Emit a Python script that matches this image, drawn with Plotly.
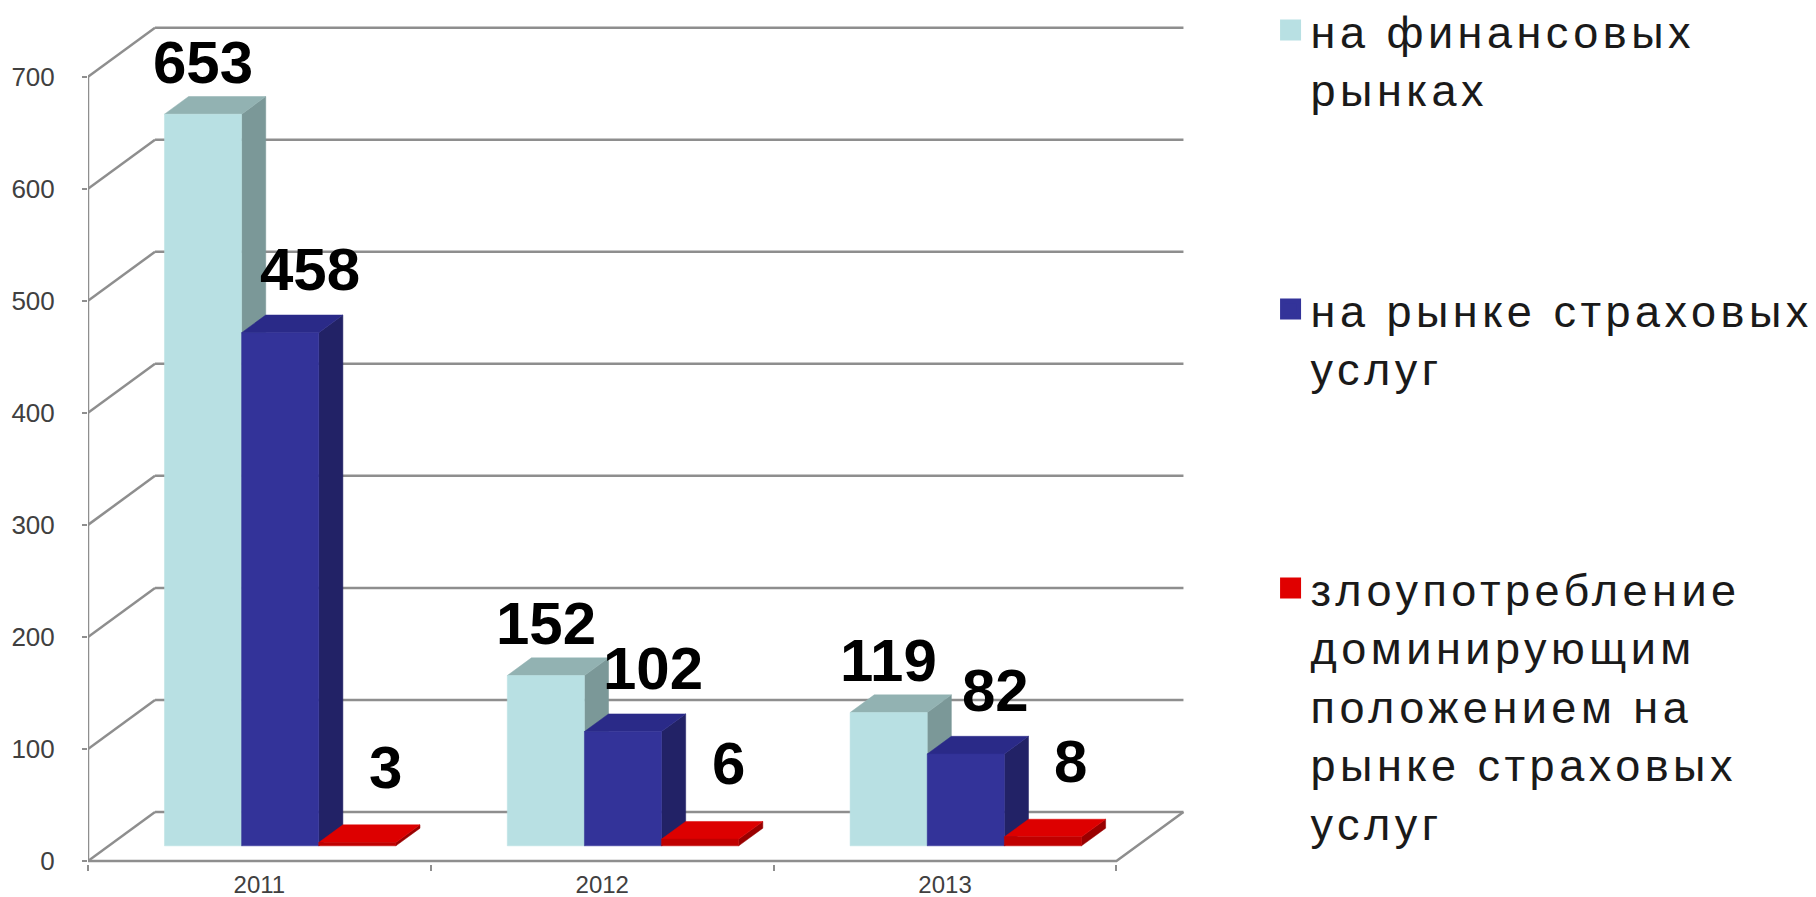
import plotly.graph_objects as go

# ---------------- data ----------------
years = ["2011", "2012", "2013"]
series_names = [
    ["на финансовых", "рынках"],
    ["на рынке страховых", "услуг"],
    ["злоупотребление", "доминирующим", "положением на", "рынке страховых", "услуг"],
]
fin_markets = [653, 152, 119]
insurance_market = [458, 102, 82]
dominance_abuse = [3, 6, 8]
y_tick_values = [0, 100, 200, 300, 400, 500, 600, 700]

series_values = [fin_markets, insurance_market, dominance_abuse]

# ---------------- style ----------------
FONT = "Liberation Sans, Arial, sans-serif"
GRID = "#8e8e8e"
front_colors = ["#b8e0e3", "#333399", "#c00000"]
top_colors = ["#92b2b2", "#2a2a88", "#dd0000"]
side_colors = ["#7b9898", "#222266", "#990000"]
legend_colors = ["#b8e0e3", "#333399", "#e00000"]

# oblique 3-D projection expressed in axis units
FLOOR_DX = 0.1955   # depth of floor, x-axis (category) units
FLOOR_DY = 43.75    # depth of floor, y-axis (value) units
BAR_W = 0.225       # bar width, category units
Z0 = 0.31           # bar front face depth fraction
ZD = 0.36           # bar depth fraction
GROUP_OFF = (1 - 3 * BAR_W) / 2
label_xshift = [0, 30, 28]
label_yshift = [-1, 10, 22]
LEGEND_SPACING = "letter-spacing:4.5px"

X_MAX = 3.2
Y_MIN, Y_MAX = -2.65, 761.3

fig = go.Figure()

# ---------------- walls / floor ----------------
wx, wy = [], []
n_cat = len(years)
for v in y_tick_values:
    wx += [FLOOR_DX, n_cat + FLOOR_DX, None]
    wy += [v + FLOOR_DY, v + FLOOR_DY, None]
    wx += [0, FLOOR_DX, None]
    wy += [v, v + FLOOR_DY, None]
wx += [0, 0, None]
wy += [0, y_tick_values[-1], None]
wx += [0, n_cat, n_cat + FLOOR_DX, None]
wy += [0, 0, FLOOR_DY, None]
fig.add_trace(go.Scatter(x=wx, y=wy, mode="lines",
                         line=dict(color=GRID, width=2.5),
                         hoverinfo="skip", showlegend=False))

# ---------------- bars ----------------
ddx = ZD * FLOOR_DX
ddy = ZD * FLOOR_DY
base = Z0 * FLOOR_DY
annotations = []
for s, vals in enumerate(series_values):
    side_x, side_y, top_x, top_y, fr_x, fr_y = [], [], [], [], [], []
    for i, v in enumerate(vals):
        x0 = i + GROUP_OFF + s * BAR_W + Z0 * FLOOR_DX
        x1 = x0 + BAR_W
        yt = base + v
        side_x += [x1, x1 + ddx, x1 + ddx, x1, x1, None]
        side_y += [base, base + ddy, yt + ddy, yt, base, None]
        top_x += [x0, x1, x1 + ddx, x0 + ddx, x0, None]
        top_y += [yt, yt, yt + ddy, yt + ddy, yt, None]
        fr_x += [x0, x1, x1, x0, x0, None]
        fr_y += [base, base, yt, yt, base, None]
        annotations.append(dict(
            x=(x0 + x1) / 2, y=yt + ddy, xref="x", yref="y",
            text=str(v), showarrow=False, yanchor="bottom", xanchor="center",
            xshift=label_xshift[s], yshift=label_yshift[s],
            font=dict(family=FONT, size=60, color="#000000", weight="bold")))
    for xs, ys, col in ((side_x, side_y, side_colors[s]),
                        (top_x, top_y, top_colors[s]),
                        (fr_x, fr_y, front_colors[s])):
        fig.add_trace(go.Scatter(x=xs, y=ys, mode="lines", fill="toself",
                                 fillcolor=col, line=dict(color=col, width=0.5),
                                 hoverinfo="skip", showlegend=False))

# ---------------- legend entries ----------------
for s, lines in enumerate(series_names):
    label = "<br>".join('<span style="%s">%s</span>' % (LEGEND_SPACING, ln) for ln in lines)
    fig.add_trace(go.Scatter(x=[None], y=[None], name=label, mode="markers",
                             marker=dict(symbol="square", size=16, color=legend_colors[s],
                                         line=dict(color=legend_colors[s], width=5)),
                             legendgroup="g%d" % s, showlegend=True))

legend_cfg = dict(x=1.078, y=1.016, xanchor="left", yanchor="top",
                  valign="top", tracegroupgap=159, itemsizing="trace",
                  font=dict(family=FONT, size=45, color="#1a1a1a"),
                  bgcolor="rgba(0,0,0,0)")

fig.update_layout(
    width=1816, height=897,
    margin=dict(l=80, r=639, t=0, b=41, autoexpand=False),
    paper_bgcolor="white", plot_bgcolor="white",
    annotations=annotations,
    showlegend=True,
    legend=legend_cfg,
    xaxis=dict(range=[0, X_MAX], showgrid=False, zeroline=False, showline=False,
               tickmode="array", tickvals=[i + 0.5 for i in range(n_cat)],
               ticktext=years, ticks="", ticklabelstandoff=4,
               tickfont=dict(family=FONT, size=24, color="#404040"),
               minor=dict(tickmode="array", tickvals=list(range(n_cat + 1)),
                          ticks="outside", ticklen=6, tickwidth=2,
                          tickcolor=GRID, showgrid=False),
               fixedrange=True, automargin=False),
    yaxis=dict(range=[Y_MIN, Y_MAX], showgrid=False, zeroline=False, showline=False,
               tickmode="array", tickvals=y_tick_values,
               ticks="outside", ticklen=5, tickwidth=2, tickcolor=GRID,
               ticklabelstandoff=22,
               tickfont=dict(family=FONT, size=26, color="#404040"),
               fixedrange=True, automargin=False),
)
try:
    fig.update_layout(legend_maxheight=1000)
except Exception:
    pass

fig.write_html("out.html")
